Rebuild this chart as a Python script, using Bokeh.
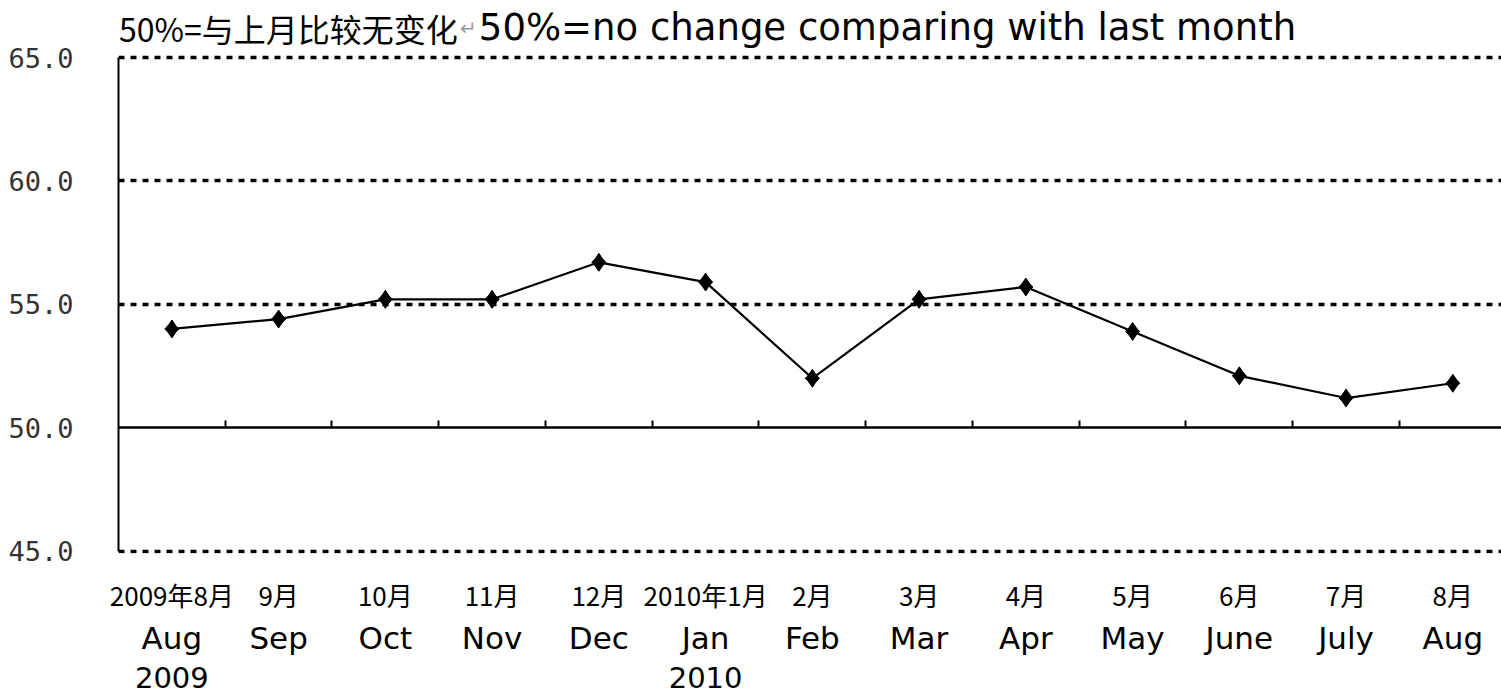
import math
from bokeh.plotting import figure
from bokeh.models import (LinearAxis, FixedTicker, Range1d, Label, Grid,
                          NumeralTickFormatter, CustomJSTickFormatter, ColumnDataSource)
from bokeh.embed import file_html
from bokeh.resources import INLINE

# ---- data ----
months_cn = ["2009年8月", "9月", "10月", "11月", "12月", "2010年1月", "2月",
             "3月", "4月", "5月", "6月", "7月", "8月"]
months_en = ["Aug", "Sep", "Oct", "Nov", "Dec", "Jan", "Feb", "Mar", "Apr",
             "May", "June", "July", "Aug"]
year_labels = {0: "2009", 5: "2010"}
values = [54.0, 54.4, 55.2, 55.2, 56.7, 55.9, 52.0, 55.2, 55.7, 53.9, 52.1, 51.2, 51.8]
y_ticks = [45, 50, 55, 60, 65]
dotted_levels = [45, 55, 60, 65]
baseline_level = 50
title_cn = "50%=与上月比较无变化"
title_mark = "↵"
title_en = "50%=no change comparing with last month"

idx = list(range(len(values)))
src = ColumnDataSource(dict(x=idx, y=values))

p = figure(width=1501, height=694,
           x_range=Range1d(-0.5, 12.456), y_range=Range1d(44.9, 67.31),
           x_axis_location=None, y_axis_location=None,
           toolbar_location=None, output_backend="svg",
           min_border_left=118, min_border_right=0, min_border_top=0,
           min_border_bottom=0)
p.outline_line_color = None
p.background_fill_color = "white"
p.border_fill_color = "white"
for g in p.grid:
    g.visible = False

# dotted grid lines
grid = Grid(dimension=1, ticker=FixedTicker(ticks=dotted_levels),
            grid_line_color="black", grid_line_width=3.5, grid_line_dash="6 6")
p.add_layout(grid)

# y axis (line limited to 45..65)
yaxis = LinearAxis(ticker=FixedTicker(ticks=y_ticks),
                   formatter=NumeralTickFormatter(format="0.0"),
                   bounds=(y_ticks[0], y_ticks[-1]),
                   major_tick_in=0, major_tick_out=0,
                   minor_tick_line_color=None,
                   axis_line_color="black", axis_line_width=2,
                   major_label_standoff=45,
                   major_label_text_font="DejaVu Sans Mono",
                   major_label_text_font_size="27px",
                   major_label_text_color="#333333")
p.add_layout(yaxis, "left")

# baseline axis at 50 with category-boundary ticks
bounds = [i + 0.5 for i in idx[:-1]]
base_axis = LinearAxis(fixed_location=baseline_level,
                       ticker=FixedTicker(ticks=bounds),
                       formatter=CustomJSTickFormatter(code="return ''"),
                       major_tick_in=7, major_tick_out=0,
                       major_tick_line_width=2,
                       minor_tick_line_color=None,
                       axis_line_width=2.5, axis_line_color="black",
                       major_label_standoff=0,
                       major_label_text_font_size="1px")
p.add_layout(base_axis, "below")

# Chinese month labels
cn_axis = LinearAxis(ticker=FixedTicker(ticks=idx),
                     major_label_overrides={i: months_cn[i] for i in idx},
                     axis_line_color=None, major_tick_line_color=None,
                     minor_tick_line_color=None,
                     major_tick_in=0, major_tick_out=0,
                     major_label_standoff=22,
                     major_label_text_font="Noto Sans CJK SC",
                     major_label_text_font_size="26px",
                     major_label_text_color="black")
p.add_layout(cn_axis, "below")

# English month labels
en_axis = LinearAxis(ticker=FixedTicker(ticks=idx),
                     major_label_overrides={i: months_en[i] for i in idx},
                     axis_line_color=None, major_tick_line_color=None,
                     minor_tick_line_color=None,
                     major_tick_in=0, major_tick_out=0,
                     major_label_standoff=4,
                     major_label_text_font="DejaVu Sans",
                     major_label_text_font_size="31px",
                     major_label_text_color="black")
p.add_layout(en_axis, "below")

# year labels
yr_axis = LinearAxis(ticker=FixedTicker(ticks=list(year_labels.keys())),
                     major_label_overrides=year_labels,
                     axis_line_color=None, major_tick_line_color=None,
                     minor_tick_line_color=None,
                     major_tick_in=0, major_tick_out=0,
                     major_label_standoff=8,
                     major_label_text_font="DejaVu Sans",
                     major_label_text_font_size="29px",
                     major_label_text_color="black")
p.add_layout(yr_axis, "below")

# invisible bottom padding
pad_axis = LinearAxis(ticker=FixedTicker(ticks=[0]),
                      formatter=CustomJSTickFormatter(code="return ''"),
                      axis_line_color=None, major_tick_line_color=None,
                      minor_tick_line_color=None,
                      major_tick_in=0, major_tick_out=4,
                      major_label_standoff=0,
                      major_label_text_font_size="1px")
p.add_layout(pad_axis, "below")

# series
p.line("x", "y", source=src, line_color="black", line_width=2.2)
p.scatter("x", "y", source=src, marker="square", size=10, angle=math.pi / 4,
          fill_color="black", line_color="black")
p.scatter("x", "y", source=src, marker="diamond", size=18,
          fill_color="black", line_color="black")

# title texts
p.add_layout(Label(x=-0.495, y=66.2, text=title_cn, text_font="Noto Sans CJK SC",
                   text_font_size="32px", text_color="black",
                   text_baseline="alphabetic"))
p.add_layout(Label(x=2.70, y=66.2, text=title_mark, text_font="DejaVu Sans",
                   text_font_size="20px", text_color="#999999",
                   text_baseline="alphabetic"))
p.add_layout(Label(x=2.876, y=66.2, text=title_en, text_font="DejaVu Sans",
                   text_font_size="37px", text_color="black",
                   text_baseline="alphabetic"))

open("out.html", "w").write(file_html(p, INLINE))
